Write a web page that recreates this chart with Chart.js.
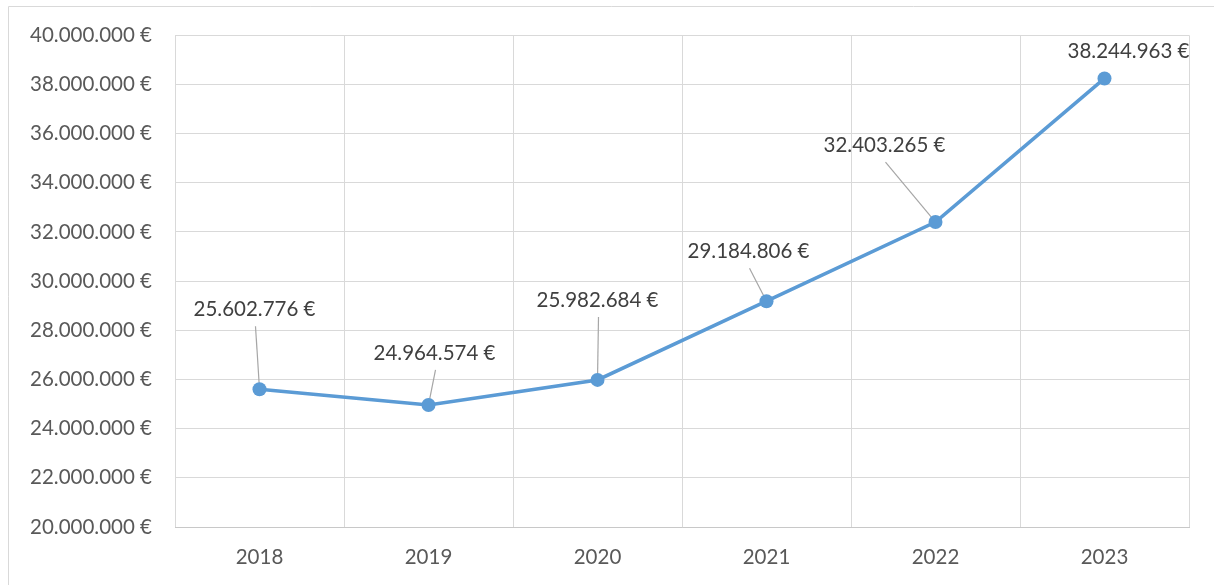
<!DOCTYPE html>
<html>
<head>
<meta charset="utf-8">
<script src="https://cdn.jsdelivr.net/npm/chart.js@4/dist/chart.umd.min.js"></script>
<style>
    html, body { margin: 0; padding: 0; background: #fff; }
    #wrap { width: 1214px; height: 585px; }
</style>
</head>
<body>
<div id="wrap"><canvas id="chart" width="1214" height="585"></canvas></div>
<script>
const years = ["2018", "2019", "2020", "2021", "2022", "2023"];
const revenue = [25602776, 24964574, 25982684, 29184806, 32403265, 38244963];
const yMin = 20000000,
    yMax = 40000000,
    yStep = 2000000;

// where each value label sits, relative to its point (px), and whether it gets a leader line
const labelShift = [[-5, -80], [6, -52], [0, -80], [-18, -50], [-51, -77], [24, -27]];
const leader = [true, true, true, true, true, false];

const FONT = "Lato, 'Noto Sans', sans-serif";
const FSIZE = 20.5;

function euro(n) {
    return String(Math.round(n)).replace(/\B(?=(\d{3})+(?!\d))/g, ".") + " €";
}

const frame = {
    id: "frame",
    beforeDraw(chart) {
        const ctx = chart.ctx;
        ctx.save();
        ctx.strokeStyle = "#d9d9d9";
        ctx.lineWidth = 1;
        ctx.beginPath();
        ctx.moveTo(8.5, chart.height + 2);
        ctx.lineTo(8.5, 6.5);
        ctx.lineTo(chart.width + 2, 6.5);
        ctx.stroke();
        ctx.restore();
    }
};

const valueLabels = {
    id: "valueLabels",
    beforeDatasetsDraw(chart) {
        const ctx = chart.ctx,
            pts = chart.getDatasetMeta(0).data;
        ctx.save();
        ctx.strokeStyle = "#a6a6a6";
        ctx.lineWidth = 1.2;
        pts.forEach((p, i) => {
            if (!leader[i]) return;
            const lx = p.x + labelShift[i][0],
                ly = p.y + labelShift[i][1];
            ctx.beginPath();
            ctx.moveTo(lx + 1, ly + 17);
            ctx.lineTo(p.x, p.y);
            ctx.stroke();
        });
        ctx.restore();
    },
    afterDatasetsDraw(chart) {
        const ctx = chart.ctx,
            pts = chart.getDatasetMeta(0).data;
        ctx.save();
        ctx.fillStyle = "#404040";
        ctx.font = FSIZE + "px " + FONT;
        ctx.textAlign = "center";
        ctx.textBaseline = "middle";
        pts.forEach((p, i) => {
            ctx.fillText(euro(revenue[i]), p.x + labelShift[i][0], p.y + labelShift[i][1]);
        });
        ctx.restore();
    }
};

new Chart(document.getElementById("chart"), {
    type: "line",
    data: {
        labels: years,
        datasets: [{
            data: revenue,
            borderColor: "#5b9bd5",
            backgroundColor: "#5b9bd5",
            borderWidth: 3.6,
            pointRadius: 7,
            pointHoverRadius: 7,
            pointBorderWidth: 0,
            tension: 0
        }]
    },
    plugins: [frame, valueLabels],
    options: {
        responsive: false,
        animation: false,
        devicePixelRatio: 1,
        layout: {
            padding: { left: 0, top: 35, right: 25, bottom: 0 }
        },
        plugins: {
            legend: { display: false },
            tooltip: { enabled: false }
        },
        scales: {
            x: {
                offset: true,
                grid: {
                    offset: true,
                    color: "#d9d9d9",
                    lineWidth: 1,
                    drawTicks: false
                },
                border: { color: "#c8c8c8", width: 1 },
                ticks: {
                    color: "#595959",
                    padding: 18,
                    font: { family: FONT, size: FSIZE }
                },
                afterFit: s => { s.height = 58; }
            },
            y: {
                min: yMin,
                max: yMax,
                grid: {
                    color: "#d9d9d9",
                    lineWidth: 1,
                    drawTicks: false
                },
                border: { display: false },
                ticks: {
                    stepSize: yStep,
                    color: "#595959",
                    padding: 23,
                    font: { family: FONT, size: FSIZE },
                    callback: v => euro(v)
                },
                afterFit: s => { s.width = 175; }
            }
        }
    }
});
</script>
</body>
</html>
